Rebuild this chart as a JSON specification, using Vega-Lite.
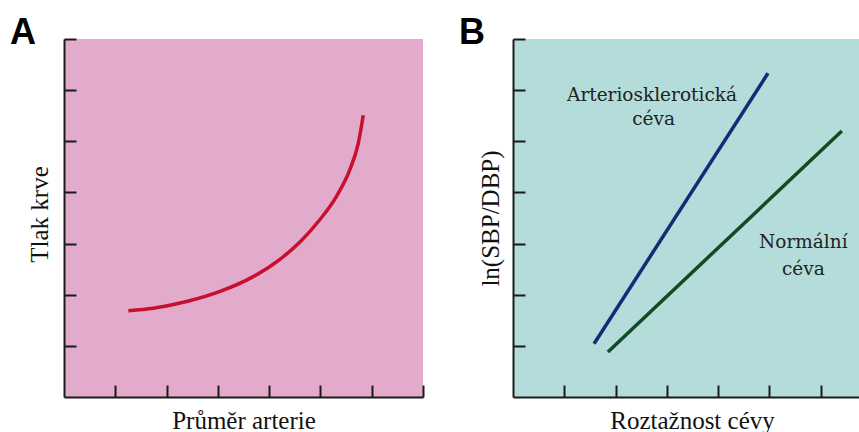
{
  "$schema": "https://vega.github.io/schema/vega-lite/v6.json",
  "padding": {"left": 10, "top": 15, "right": 0, "bottom": 0},
  "background": "white",
  "spacing": 90,
  "bounds": "flush",
  "config": {
    "axis": {
      "domainColor": "#1a1a1a",
      "domainWidth": 2,
      "tickColor": "#1a1a1a",
      "tickWidth": 2,
      "tickSize": -12,
      "labels": false,
      "grid": false,
      "titleFont": "Liberation Serif",
      "titleFontSize": 25,
      "titleFontWeight": "normal",
      "titleColor": "#111111"
    },
    "text": {"font": "DejaVu Serif"},
    "title": {
      "font": "Liberation Sans",
      "fontSize": 36,
      "fontWeight": "bold",
      "color": "#000000",
      "anchor": "start",
      "frame": "group",
      "baseline": "alphabetic",
      "offset": 0,
      "dx": -54,
      "dy": 18
    }
  },
  "datasets": {
    "curveA": [
      {"diameter": 1.254, "pressure": 1.688},
      {"diameter": 1.740, "pressure": 1.737},
      {"diameter": 2.391, "pressure": 1.867},
      {"diameter": 3.042, "pressure": 2.065},
      {"diameter": 3.691, "pressure": 2.354},
      {"diameter": 4.211, "pressure": 2.692},
      {"diameter": 4.601, "pressure": 3.030},
      {"diameter": 4.991, "pressure": 3.470},
      {"diameter": 5.316, "pressure": 3.930},
      {"diameter": 5.576, "pressure": 4.450},
      {"diameter": 5.738, "pressure": 4.960},
      {"diameter": 5.835, "pressure": 5.510}
    ],
    "linesB": [
      {"vessel": "Arteriosklerotická céva", "distensibility": 1.58, "lnratio": 1.04},
      {"vessel": "Arteriosklerotická céva", "distensibility": 4.97, "lnratio": 6.33},
      {"vessel": "Normální céva", "distensibility": 1.85, "lnratio": 0.88},
      {"vessel": "Normální céva", "distensibility": 6.41, "lnratio": 5.20}
    ],
    "labelsB": [
      {"text": "Arteriosklerotická", "distensibility": 2.71, "lnratio": 5.78},
      {"text": "céva", "distensibility": 2.74, "lnratio": 5.31},
      {"text": "Normální", "distensibility": 5.66, "lnratio": 2.92},
      {"text": "céva", "distensibility": 5.66, "lnratio": 2.39}
    ]
  },
  "hconcat": [
    {
      "title": {"text": "A"},
      "width": 359,
      "height": 358,
      "view": {"fill": "#e2aacb", "stroke": null},
      "data": {"name": "curveA"},
      "mark": {"type": "line", "color": "#c8102e", "strokeWidth": 3.5, "interpolate": "monotone", "strokeCap": "butt"},
      "encoding": {
        "x": {
          "field": "diameter", "type": "quantitative",
          "scale": {"domain": [0, 7], "nice": false, "zero": false},
          "axis": {"title": "Průměr arterie", "values": [1, 2, 3, 4, 5, 6, 7], "titleBaseline": "alphabetic", "titleY": 31}
        },
        "y": {
          "field": "pressure", "type": "quantitative",
          "scale": {"domain": [0, 7], "nice": false, "zero": false},
          "axis": {"title": "Tlak krve", "values": [1, 2, 3, 4, 5, 6, 7], "titleBaseline": "alphabetic", "titleX": -17, "titleY": 175}
        }
      }
    },
    {
      "title": {"text": "B"},
      "width": 346,
      "height": 358,
      "view": {"fill": "#b3dcdb", "stroke": null},
      "layer": [
        {
          "data": {"name": "linesB"},
          "mark": {"type": "line", "strokeWidth": 3.5},
          "encoding": {
            "x": {
              "field": "distensibility", "type": "quantitative",
              "scale": {"domain": [0, 6.745], "nice": false, "zero": false},
              "axis": {"title": "Roztažnost cévy", "values": [1, 2, 3, 4, 5, 6], "titleBaseline": "alphabetic", "titleY": 31, "titleX": 179}
            },
            "y": {
              "field": "lnratio", "type": "quantitative",
              "scale": {"domain": [0, 7], "nice": false, "zero": false},
              "axis": {"title": "ln(SBP/DBP)", "values": [1, 2, 3, 4, 5, 6, 7], "titleBaseline": "alphabetic", "titleX": -15}
            },
            "color": {
              "field": "vessel", "type": "nominal",
              "scale": {"domain": ["Arteriosklerotická céva", "Normální céva"], "range": ["#172a74", "#0f4b23"]},
              "legend": null
            }
          }
        },
        {
          "data": {"name": "labelsB"},
          "mark": {"type": "text", "font": "DejaVu Serif", "fontSize": 18.5, "align": "center", "baseline": "alphabetic", "color": "#222222"},
          "encoding": {
            "x": {"field": "distensibility", "type": "quantitative"},
            "y": {"field": "lnratio", "type": "quantitative"},
            "text": {"field": "text"}
          }
        }
      ]
    }
  ]
}
